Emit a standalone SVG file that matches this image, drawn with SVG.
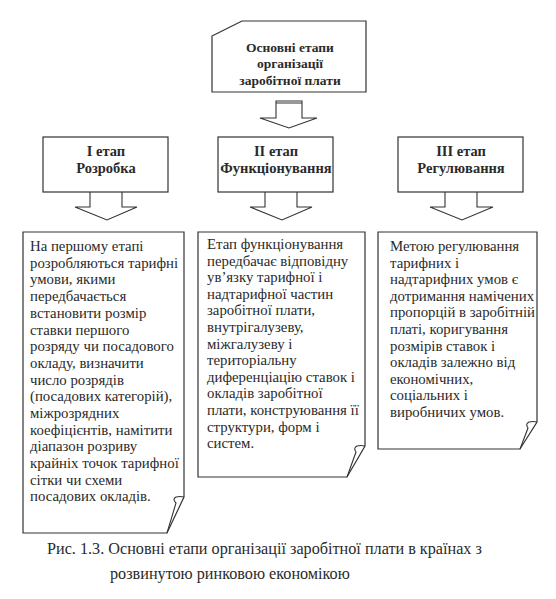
<svg xmlns="http://www.w3.org/2000/svg" width="556" height="599" viewBox="0 0 556 599">
<style>
.sh{fill:#fff;stroke:#333;stroke-width:1.2;stroke-linejoin:miter}
.fold{fill:none;stroke:#333;stroke-width:1.1}
.ar{fill:#fff;stroke:#333;stroke-width:1.1}
.t{font-family:"Liberation Serif","Times New Roman",serif;fill:#2a2a2a}
.b{font-size:13.5px;font-weight:bold;text-anchor:middle}
.s{font-size:14.5px}
.bd{font-size:14.8px}
.cap{font-size:16.2px}
</style>
<rect width="556" height="599" fill="#fff"/>
<g id="connectors">
<path class="ar" d="M276,101 H302 V118 H317 L289,128 L260,118 H276 Z"/>
<line x1="276" y1="103" x2="302" y2="103" stroke="#333" stroke-width="1"/>
<path class="ar" d="M90,192 V207 H75 L107,220 L137,207 H122 V192"/>
<path class="ar" d="M265,192 V207 H250 L282,220 L312,207 H297 V192"/>
<path class="ar" d="M445,192 V207 H430 L462,220 L493,207 H477 V192"/>
</g>
<g id="top">
<path class="sh" d="M212,36 L242,21 H366 V92 H212 Z"/>
<text class="t b" x="290" y="52">Основні етапи</text>
<text class="t b" x="290" y="68">організації</text>
<text class="t b" x="290" y="85">заробітної плати</text>
</g>
<g id="stage1">
<rect class="sh" x="43" y="137" width="125" height="55"/>
<text class="t b s" x="106" y="156">I етап</text>
<text class="t b s" x="106" y="173">Розробка</text>
</g>
<g id="stage2">
<rect class="sh" x="218" y="137" width="115" height="55"/>
<text class="t b s" x="276" y="156">II етап</text>
<text class="t b s" x="276" y="173">Функціонування</text>
</g>
<g id="stage3">
<rect class="sh" x="398" y="137" width="125" height="55"/>
<text class="t b s" x="461" y="156">III етап</text>
<text class="t b s" x="461" y="173">Регулювання</text>
</g>
<g id="desc1">
<path class="sh" d="M23,232 H184 V497 L167,533 H23 Z"/>
<path class="fold" d="M167,533 L176,503 Q172,499 176,497 Q180,496 184,497"/>
<text class="t bd" x="30" y="251">
<tspan x="30" dy="0">На першому етапі</tspan>
<tspan x="30" dy="16.7">розробляються тарифні</tspan>
<tspan x="30" dy="16.7">умови, якими</tspan>
<tspan x="30" dy="16.7">передбачається</tspan>
<tspan x="30" dy="16.7">встановити розмір</tspan>
<tspan x="30" dy="16.7">ставки першого</tspan>
<tspan x="30" dy="16.7">розряду чи посадового</tspan>
<tspan x="30" dy="16.7">окладу, визначити</tspan>
<tspan x="30" dy="16.7">число розрядів</tspan>
<tspan x="30" dy="16.7">(посадових категорій),</tspan>
<tspan x="30" dy="16.7">міжрозрядних</tspan>
<tspan x="30" dy="16.7">коефіцієнтів, намітити</tspan>
<tspan x="30" dy="16.7">діапазон розриву</tspan>
<tspan x="30" dy="16.7">крайніх точок тарифної</tspan>
<tspan x="30" dy="16.7">сітки чи схеми</tspan>
<tspan x="30" dy="16.7">посадових окладів.</tspan>
</text>
</g>
<g id="desc2">
<path class="sh" d="M198,232 H365 V446 L347,477 H198 Z"/>
<path class="fold" d="M347,477 L356,452 Q353,448 357,446 Q361,445 365,446"/>
<text class="t bd" x="207" y="249">
<tspan x="207" dy="0">Етап функціонування</tspan>
<tspan x="207" dy="16.6">передбачає відповідну</tspan>
<tspan x="207" dy="16.6">ув’язку тарифної і</tspan>
<tspan x="207" dy="16.6">надтарифної частин</tspan>
<tspan x="207" dy="16.6">заробітної плати,</tspan>
<tspan x="207" dy="16.6">внутрігалузеву,</tspan>
<tspan x="207" dy="16.6">міжгалузеву і</tspan>
<tspan x="207" dy="16.6">територіальну</tspan>
<tspan x="207" dy="16.6">диференціацію ставок і</tspan>
<tspan x="207" dy="16.6">окладів заробітної</tspan>
<tspan x="207" dy="16.6">плати, конструювання її</tspan>
<tspan x="207" dy="16.6">структури, форм і</tspan>
<tspan x="207" dy="16.6">систем.</tspan>
</text>
</g>
<g id="desc3">
<path class="sh" d="M378,232 H537 V422 L520,449 H378 Z"/>
<path class="fold" d="M520,449 L528,428 Q525,424 529,422 Q533,421 537,422"/>
<text class="t bd" x="390" y="251">
<tspan x="390" dy="0">Метою регулювання</tspan>
<tspan x="390" dy="16.6">тарифних і</tspan>
<tspan x="390" dy="16.6">надтарифних умов є</tspan>
<tspan x="390" dy="16.6">дотримання намічених</tspan>
<tspan x="390" dy="16.6">пропорцій в заробітній</tspan>
<tspan x="390" dy="16.6">платі, коригування</tspan>
<tspan x="390" dy="16.6">розмірів ставок і</tspan>
<tspan x="390" dy="16.6">окладів залежно від</tspan>
<tspan x="390" dy="16.6">економічних,</tspan>
<tspan x="390" dy="16.6">соціальних і</tspan>
<tspan x="390" dy="16.6">виробничих умов.</tspan>
</text>
</g>
<g id="caption">
<text class="t cap" x="47" y="554">Рис. 1.3. Основні етапи організації заробітної плати в країнах з</text>
<text class="t cap" x="110" y="579">розвинутою ринковою економікою</text>
</g>
</svg>
